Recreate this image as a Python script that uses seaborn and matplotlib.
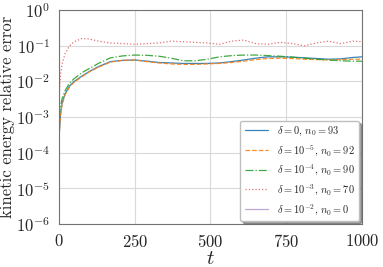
import numpy as np
import pandas as pd
import matplotlib
matplotlib.use("Agg")
import matplotlib.pyplot as plt
import seaborn as sns

# time samples
t = [0, 5, 10, 20, 35, 50, 75, 100, 130, 170, 210, 250, 290, 330, 370, 410,
     450, 490, 530, 570, 610, 650, 690, 730, 770, 810, 850, 890, 930, 970, 1000]

err_d0 = [2.3e-4, 1.2e-3, 2.4e-3, 4.5e-3, 7.5e-3, 1.0e-2, 1.4e-2, 1.9e-2, 2.6e-2, 3.6e-2,
          3.9e-2, 4.0e-2, 3.7e-2, 3.4e-2, 3.3e-2, 3.2e-2, 3.2e-2, 3.2e-2, 3.3e-2, 3.6e-2,
          4.0e-2, 4.5e-2, 4.9e-2, 4.9e-2, 4.8e-2, 4.6e-2, 4.4e-2, 4.2e-2, 4.3e-2, 4.7e-2, 4.9e-2]
err_d1e5 = [3.0e-4, 1.1e-3, 2.2e-3, 4.2e-3, 7.0e-3, 9.5e-3, 1.35e-2, 1.85e-2, 2.5e-2, 3.5e-2,
            3.9e-2, 4.0e-2, 3.6e-2, 3.3e-2, 3.1e-2, 3.0e-2, 3.0e-2, 3.1e-2, 3.2e-2, 3.4e-2,
            3.7e-2, 4.1e-2, 4.4e-2, 4.5e-2, 4.4e-2, 4.2e-2, 4.1e-2, 4.0e-2, 4.1e-2, 4.2e-2, 4.2e-2]
err_d1e4 = [1.0e-3, 2.0e-3, 3.2e-3, 5.5e-3, 9.0e-3, 1.2e-2, 1.75e-2, 2.3e-2, 3.2e-2, 4.6e-2,
            5.2e-2, 5.5e-2, 5.4e-2, 5.1e-2, 4.5e-2, 3.8e-2, 3.8e-2, 4.2e-2, 4.9e-2, 5.3e-2,
            5.5e-2, 5.5e-2, 5.3e-2, 5.1e-2, 4.8e-2, 4.5e-2, 4.2e-2, 4.0e-2, 3.8e-2, 3.7e-2, 3.7e-2]
err_d1e3 = [3.0e-3, 1.5e-2, 3.0e-2, 6.0e-2, 1.0e-1, 1.3e-1, 1.6e-1, 1.55e-1, 1.35e-1, 1.2e-1,
            1.15e-1, 1.1e-1, 1.15e-1, 1.2e-1, 1.35e-1, 1.3e-1, 1.25e-1, 1.2e-1, 1.1e-1, 1.35e-1,
            1.45e-1, 1.15e-1, 1.1e-1, 1.25e-1, 1.15e-1, 1.0e-1, 1.2e-1, 1.35e-1, 1.15e-1, 1.35e-1, 1.3e-1]
err_d1e2 = []  # n0 = 0, nothing to draw

labels = [r"$\delta = 0$, $n_0 = 93$",
          r"$\delta = 10^{-5}$, $n_0 = 92$",
          r"$\delta = 10^{-4}$, $n_0 = 90$",
          r"$\delta = 10^{-3}$, $n_0 = 70$",
          r"$\delta = 10^{-2}$, $n_0 = 0$"]

sns.set_style("whitegrid")
plt.rcParams["font.family"] = "serif"
plt.rcParams["font.serif"] = ["cmr10", "DejaVu Serif"]
plt.rcParams["mathtext.fontset"] = "cm"
plt.rcParams["axes.formatter.use_mathtext"] = True
plt.rcParams["axes.unicode_minus"] = False

fig = plt.figure(figsize=(3.83, 2.67), dpi=100)
ax = fig.add_axes([0.154, 0.161, 0.791, 0.801])

palette = sns.color_palette("tab10")
series = [(t, err_d0, "-", 0.9), (t, err_d1e5, "--", 0.9), (t, err_d1e4, "-.", 0.9),
          (t, err_d1e3, ":", 0.65), (t[:len(err_d1e2)], err_d1e2, "-", 0.6)]
for i, (x, y, ls, a) in enumerate(series):
    df = pd.DataFrame({"t": x, "err": y}, dtype=float)
    sns.lineplot(data=df, x="t", y="err", ax=ax, color=palette[i], linestyle=ls,
                 linewidth=0.9, alpha=a, label=labels[i])

ax.set_yscale("log")
ax.set_ylim(1e-6, 1e0)
ax.set_xlim(0, 1000)
ax.set_xticks([0, 250, 500, 750, 1000])
ax.set_yticks([1e-6, 1e-5, 1e-4, 1e-3, 1e-2, 1e-1, 1e0])
ax.minorticks_off()
ax.tick_params(labelsize=12, length=3, color="0.4")
ax.set_xlabel(r"$t$", fontsize=15, labelpad=0)
ax.set_ylabel("kinetic energy relative error", fontsize=12, labelpad=1)
ax.grid(True, color="0.85", linewidth=0.8)
for s in ax.spines.values():
    s.set_color("0.45")
    s.set_linewidth(0.8)

leg = ax.legend(loc="lower right", fontsize=7.5, frameon=True, shadow=True,
                borderaxespad=0.3, handlelength=2.3, labelspacing=0.45)
leg.get_frame().set_edgecolor("0.75")

fig.savefig("out.png", dpi=100)
